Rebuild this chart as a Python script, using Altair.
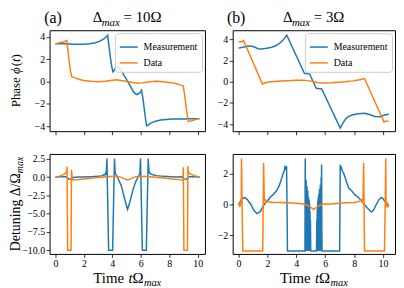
import altair as alt
import pandas as pd

SERIF = "Liberation Serif"
SERIES = ["Measurement", "Data"]
COLORS = ["#1f77b4", "#ff7f0e"]

# ---------- panel (a): Delta_max = 10 Omega ----------
a_phase_meas_t = [0.0, 0.4, 0.8, 1.2, 1.6, 2.0, 2.4, 2.8, 3.1, 3.35, 3.55, 3.67, 3.75, 3.85, 3.95, 4.04, 4.12,
                  4.22, 4.33, 4.45, 4.6, 4.79, 4.95, 5.08, 5.22, 5.36, 5.5, 5.7, 5.9, 6.05, 6.15, 6.25, 6.33,
                  6.41, 6.5, 6.65, 6.85, 7.1, 7.4, 7.8, 8.2, 8.6, 9.0, 9.4, 9.8, 10.14]
a_phase_meas_v = [3.37, 3.37, 3.36, 3.33, 3.32, 3.33, 3.37, 3.46, 3.58, 3.76, 3.95, 4.12, 3.3, 2.3, 1.4, 0.86, 0.98,
                  1.2, 1.33, 1.3, 1.05, 0.62, 0.3, 0.0, -0.3, -0.63, -0.95, -1.16, -1.05, -0.77, -1.5, -2.5, -3.3,
                  -3.95, -3.88, -3.75, -3.62, -3.52, -3.44, -3.38, -3.35, -3.34, -3.34, -3.33, -3.32, -3.31]
a_phase_data_t = [0.0, 0.3, 0.6, 0.8, 0.88, 0.96, 1.05, 1.15, 1.4, 1.7, 2.0, 2.5, 3.0, 3.5, 4.0, 4.3, 4.6, 5.07,
                  5.5, 5.8, 6.1, 6.6, 7.1, 7.6, 8.1, 8.45, 8.75, 8.99, 9.08, 9.17, 9.26, 9.35, 9.55, 9.85, 10.14]
a_phase_data_v = [3.37, 3.45, 3.55, 3.66, 2.8, 1.9, 1.0, 0.43, 0.3, 0.18, 0.1, 0.02, -0.03, 0.02, 0.12, 0.15, 0.1,
                  0.0, -0.1, -0.15, -0.12, -0.03, 0.02, -0.02, -0.1, -0.18, -0.3, -0.4, -1.2, -2.1, -3.0, -3.58,
                  -3.5, -3.4, -3.3]

a_det_meas_t = [0.0, 0.4, 0.75, 0.85, 0.95, 1.1, 1.25, 1.6, 2.0, 2.5, 3.0, 3.3, 3.42, 3.48, 3.53, 3.57, 3.62,
                3.74, 4.02, 4.15, 4.2, 4.26, 4.35, 4.5, 4.65, 4.8, 4.95, 5.07, 5.2, 5.35, 5.5, 5.65, 5.8, 5.88,
                5.93, 5.98, 6.11, 6.39, 6.52, 6.57, 6.62, 6.7, 6.8, 7.1, 7.6, 8.1, 8.6, 8.9, 9.05, 9.2, 9.3, 9.4,
                9.75, 10.14]
a_det_meas_v = [0.0, 0.05, 0.05, -0.1, -0.3, -0.25, -0.05, 0.0, 0.02, 0.05, 0.1, 0.2, 0.35, 0.3, 0.55, 0.45, 2.55,
                -10, -10, 2.55, 0.6, 0.35, 0.05, -0.6, -1.3, -2.5, -3.6, -4.4, -3.6, -2.5, -1.4, -0.6, -0.05, 0.3,
                0.4, 2.55, -10, -10, 2.55, 0.9, 0.55, 0.45, 0.35, 0.2, 0.1, 0.05, 0.02, 0.05, -0.25, -0.3, -0.1,
                0.05, 0.05, 0.0]
a_det_data_t = [0.0, 0.2, 0.4, 0.6, 0.75, 0.8, 0.82, 0.86, 1.1, 1.13, 1.16, 1.22, 1.4, 2.0, 2.6, 3.2, 3.8, 4.3,
                4.6, 4.85, 5.07, 5.3, 5.55, 5.85, 6.4, 7.0, 7.6, 8.2, 8.8, 8.96, 8.99, 9.03, 9.28, 9.31, 9.34, 9.4,
                9.55, 9.75, 9.95, 10.14]
a_det_data_v = [0.0, 0.1, 0.2, 0.38, 0.6, 0.9, 1.45, -10, -10, 1.0, 0.3, -0.4, -0.38, -0.25, -0.12, -0.02, 0.08,
                0.12, 0.0, -0.25, -0.38, -0.25, 0.0, 0.12, 0.08, -0.02, -0.12, -0.25, -0.38, -0.42, 1.35, -10, -10,
                1.5, 0.7, 0.55, 0.38, 0.2, 0.1, 0.0]

# ---------- panel (b): Delta_max = 3 Omega ----------
b_phase_meas_t = [0.0, 0.3, 0.6, 0.85, 1.1, 1.35, 1.62, 1.95, 2.3, 2.6, 2.85, 3.1, 3.34, 4.57, 4.75, 4.93, 5.38,
                  5.55, 5.76, 7.04, 7.2, 7.4, 7.6, 7.9, 8.3, 8.75, 9.1, 9.45, 9.8, 10.1, 10.4]
b_phase_meas_v = [3.17, 3.25, 3.35, 3.38, 3.28, 3.12, 3.08, 3.15, 3.26, 3.42, 3.63, 3.95, 4.4, 0.78, 0.78, 0.7,
                  -0.62, -0.65, -0.68, -4.37, -3.95, -3.55, -3.3, -3.12, -3.03, -2.97, -3.12, -3.28, -3.3, -3.15,
                  -3.08]
b_phase_data_t = [0.0, 0.25, 0.35, 1.66, 1.9, 2.3, 2.9, 3.4, 4.0, 4.5, 4.9, 5.2, 5.5, 5.9, 6.4, 6.9, 7.4, 7.9,
                  8.4, 8.72, 10.07, 10.15, 10.4]
b_phase_data_v = [3.78, 3.78, 3.9, -0.22, -0.08, 0.0, 0.06, 0.1, 0.13, 0.15, 0.08, 0.0, -0.1, -0.13, -0.1, -0.05,
                  0.0, 0.08, 0.18, 0.3, -3.81, -3.72, -3.72]

b_det_meas_t = [0.0, 0.1, 0.25, 0.42, 0.6, 0.87, 1.05, 1.28, 1.5, 1.77, 2.0, 2.22, 2.45, 2.67, 2.8, 2.9, 3.0,
                3.08, 3.15, 3.22, 3.27, 3.33, 3.39,
                4.60, 4.62, 4.635, 4.65, 4.665, 4.68, 4.695, 4.71, 4.725, 4.74, 4.755, 4.77, 4.785, 4.80, 4.815,
                4.83, 4.845, 4.86, 4.875, 4.89, 4.905, 4.92, 4.935, 4.95, 4.965, 4.98, 5.00,
                5.40, 5.42, 5.435, 5.45, 5.465, 5.48, 5.495, 5.51, 5.525, 5.54, 5.555, 5.57, 5.585, 5.60, 5.615,
                5.63, 5.645, 5.66, 5.675, 5.69, 5.705, 5.72, 5.735, 5.75, 5.765, 5.78,
                7.0, 7.04, 7.1, 7.18, 7.28, 7.4, 7.5, 7.62, 7.84, 8.05, 8.3, 8.6, 8.9, 9.2, 9.35, 9.5, 9.7, 9.87,
                10.0, 10.1, 10.25, 10.4]
b_det_meas_v = [0.0, 0.15, 0.38, 0.47, 0.35, 0.0, -0.35, -0.58, -0.45, 0.0, 0.25, 0.5, 0.7, 0.95, 1.2, 1.45, 1.75,
                2.0, 2.15, 2.45, 2.35, 2.5, -3.0,
                -3.0, 3.0, -2.0, 0.9, -3.0, 1.6, -2.6, 0.8, -3.0, 1.2, -1.5, 0.6, -3.0, 0.9, -2.2, 0.5, -3.0, 0.4,
                -1.8, 0.3, -3.0, 0.1, -2.5, -0.4, -3.0, -1.0, -3.0,
                -3.0, -1.0, -3.0, -0.3, -2.5, 0.2, -3.0, 0.4, -1.8, 0.6, -3.0, 0.7, -2.2, 1.0, -3.0, 0.8, -1.6,
                1.3, -3.0, 1.0, -2.4, 1.8, -3.0, 2.6, -1.0, -3.0,
                -3.0, 2.52, 2.45, 2.2, 2.04, 1.7, 1.41, 1.1, 0.89, 0.65, 0.47, 0.15, -0.2, -0.47, -0.35, -0.05,
                0.3, 0.47, 0.4, 0.26, 0.1, -0.05]
b_det_data_t = [0.0, 0.05, 0.1, 0.15, 0.19, 0.21, 0.25, 0.3, 1.68, 1.71, 1.74, 1.78, 1.82, 1.86, 1.9, 2.0, 2.4,
                2.9, 3.5, 4.0, 4.5, 4.8, 5.0, 5.2, 5.4, 5.6, 5.9, 6.4, 7.0, 7.45, 8.0, 8.35, 8.5, 8.56, 8.62,
                8.66, 8.69, 8.72, 10.1, 10.15, 10.19, 10.21, 10.25, 10.3, 10.35, 10.4]
b_det_data_v = [-0.05, 0.1, -0.15, 0.2, 0.0, 3.0, 0.0, -3.0, -3.0, 0.0, 2.7, 0.6, 0.2, 0.35, 0.15, 0.2, 0.15,
                0.15, 0.12, 0.09, 0.05, -0.05, -0.18, -0.3, -0.18, -0.05, 0.05, 0.05, 0.1, 0.12, 0.15, 0.2, 0.3,
                0.2, 0.45, 2.7, 0.0, -3.0, -3.0, 0.0, 3.0, 0.0, -0.15, 0.15, -0.1, 0.0]

# tick values
phase_ticks = [-4, -2, 0, 2, 4]
a_det_ticks = [2.5, 0.0, -2.5, -5.0, -7.5, -10.0]
b_det_ticks = [-2, 0, 2]
time_ticks = [0, 2, 4, 6, 8, 10]

W_A, W_B = 157, 164
H_TOP, H_BOT = 102, 101

# approximate Times advance widths (em) used to lay out rich-text labels
W_REG = {"T": 0.611, "i": 0.278, "m": 0.778, "e": 0.444, " ": 0.25, "D": 0.722, "t": 0.278, "u": 0.5,
         "n": 0.5, "g": 0.5, "Δ": 0.612, "/": 0.278, "Ω": 0.768, "=": 0.564, "1": 0.5, "0": 0.5, "3": 0.5,
         "(": 0.333, ")": 0.333, "P": 0.556, "h": 0.5, "a": 0.444, "s": 0.389}
W_IT = {"m": 0.722, "a": 0.5, "x": 0.444, "t": 0.278, "ϕ": 0.6}


def text_w(s, size, italic):
    tbl = W_IT if italic else W_REG
    return sum(tbl.get(c, 0.5) for c in s) * size


def rich(pieces, cx, cy, angle=0):
    """pieces: (text, size, italic, baseline shift); centred at (cx, cy) along the reading direction."""
    total = sum(text_w(t, s, it) for t, s, it, sh in pieces)
    pos = -total / 2
    out = []
    for t, s, it, sh in pieces:
        if t.strip():
            if angle == 0:
                x, y = cx + pos, cy + sh
            else:
                x, y = cx + sh, cy - pos
            out.append(
                alt.Chart(pd.DataFrame({"s": [t]})).mark_text(
                    font=SERIF, fontSize=s, fontStyle="italic" if it else "normal", align="left",
                    baseline="alphabetic", angle=angle, color="black"
                ).encode(x=alt.value(x), y=alt.value(y), text="s:N")
            )
        pos += text_w(t, s, it)
    return out


def plain(txt, x, y, size):
    return alt.Chart(pd.DataFrame({"s": [txt]})).mark_text(
        font=SERIF, fontSize=size, align="center", baseline="alphabetic", color="black"
    ).encode(x=alt.value(x), y=alt.value(y), text="s:N")


def frame(t, v, name):
    return pd.DataFrame({"t": t, "v": v, "series": name, "i": range(len(t))})


def panel(meas, data, xdom, ydom, yticks, show_x_labels, legend, fmt=None):
    xaxis = alt.Axis(values=time_ticks, labels=show_x_labels, title=None)
    yaxis_kw = dict(values=yticks, title=None)
    if fmt:
        yaxis_kw["format"] = fmt
    yaxis = alt.Axis(**yaxis_kw)
    leg = None
    if legend:
        leg = alt.Legend(orient="top-right", title=None, symbolType="stroke", symbolSize=330,
                         symbolStrokeWidth=1.5, labelFont=SERIF, labelFontSize=10, labelColor="black",
                         fillColor="rgba(255,255,255,0.85)", strokeColor="#cccccc", padding=4,
                         cornerRadius=3, offset=3, rowPadding=1, labelOffset=5)
    layers = []
    for df in (meas, data):
        layers.append(
            alt.Chart(df).mark_line(strokeWidth=1.5, clip=True).encode(
                x=alt.X("t:Q", scale=alt.Scale(domain=xdom, nice=False, zero=False), axis=xaxis),
                y=alt.Y("v:Q", scale=alt.Scale(domain=ydom, nice=False, zero=False), axis=yaxis),
                color=alt.Color("series:N", scale=alt.Scale(domain=SERIES, range=COLORS), legend=leg),
                order="i:Q",
            )
        )
    return layers


def delta_title(value, width):
    return rich([("Δ", 15, False, 0), ("max", 11, True, 3.5), (" ", 15, False, 0), ("=", 15, False, 0),
                 (" ", 15, False, 0), (value, 15, False, 0)], width / 2, -8)


def time_title(width, height):
    return rich([("Time", 15, False, 0), (" ", 15, False, 0), ("t", 15, True, 0), ("Ω", 15, False, 0),
                 ("max", 10.5, True, 3.5)], width / 2, height + 29)


xa = [-0.41, 10.51]
xb = [-0.40, 10.83]

tl = alt.layer(
    *panel(frame(a_phase_meas_t, a_phase_meas_v, "Measurement"), frame(a_phase_data_t, a_phase_data_v, "Data"),
           xa, [-4.43, 4.575], phase_ticks, False, True),
    plain("(a)", 3.5, -7, 16),
    *delta_title("10Ω", W_A),
    *rich([("Phase", 13, False, 0), (" ", 13, False, 0), ("ϕ", 13, True, 0), ("(", 13, False, 0),
           ("t", 13, True, 0), (")", 13, False, 0)], -30, H_TOP / 2, angle=270),
).properties(width=W_A, height=H_TOP)

tr = alt.layer(
    *panel(frame(b_phase_meas_t, b_phase_meas_v, "Measurement"), frame(b_phase_data_t, b_phase_data_v, "Data"),
           xb, [-4.67, 4.86], phase_ticks, False, True),
    plain("(b)", 3.5, -7, 16),
    *delta_title("3Ω", W_B),
).properties(width=W_B, height=H_TOP)

bl = alt.layer(
    *panel(frame(a_det_meas_t, a_det_meas_v, "Measurement"), frame(a_det_data_t, a_det_data_v, "Data"),
           xa, [-10.49, 3.16], a_det_ticks, True, False, fmt=".1f"),
    *time_title(W_A, H_BOT),
    *rich([("Detuning", 14, False, 0), (" ", 14, False, 0), ("Δ/Ω", 14, False, 0), ("max", 10, True, 3.5)],
          -30, H_BOT / 2, angle=270),
).properties(width=W_A, height=H_BOT)

br = alt.layer(
    *panel(frame(b_det_meas_t, b_det_meas_v, "Measurement"), frame(b_det_data_t, b_det_data_v, "Data"),
           xb, [-3.19, 3.29], b_det_ticks, True, False),
    *time_title(W_B, H_BOT),
).properties(width=W_B, height=H_BOT)

chart = alt.ConcatChart(
    concat=[tl, tr, bl, br], columns=2, spacing={"row": 17, "column": 10}, align="each", padding=0
).resolve_scale(color="independent", x="independent", y="independent").resolve_legend(
    color="independent"
).configure_view(
    stroke="black", strokeWidth=1
).configure_axis(
    domain=False, grid=False, tickColor="black", tickSize=3.5, tickWidth=0.8,
    labelFont=SERIF, labelFontSize=10, labelColor="black", labelPadding=1.5,
)

chart.save("out.html", embed_options={"renderer": "svg", "actions": False})
